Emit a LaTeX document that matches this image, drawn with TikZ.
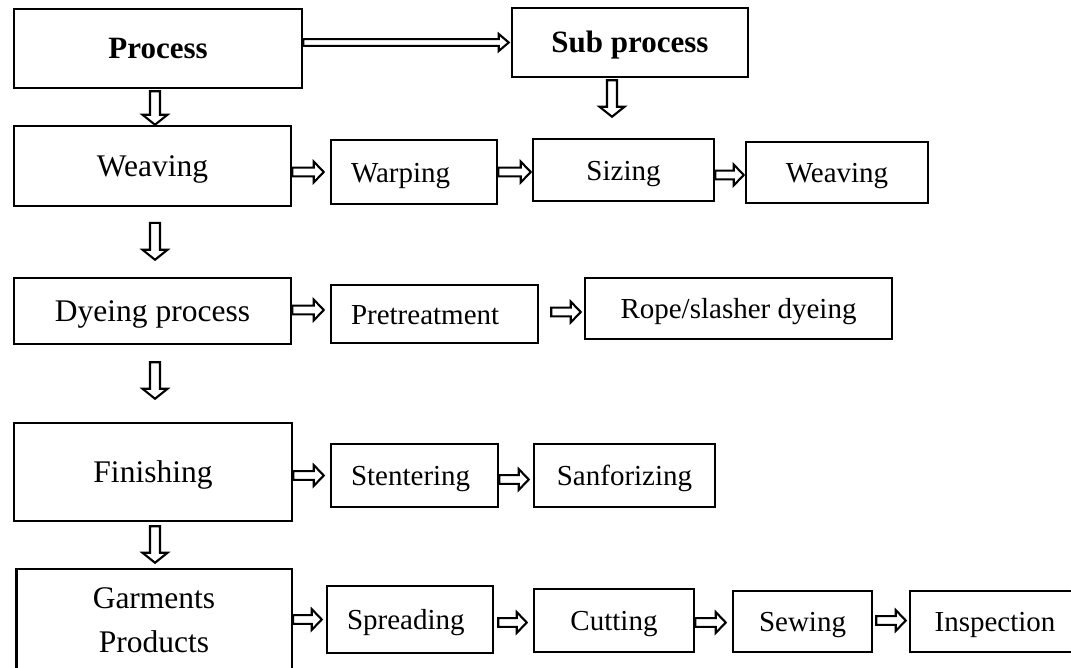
\documentclass[tikz,border=0pt]{standalone}
\usepackage{fontspec}
\setmainfont{Liberation Serif}
\usetikzlibrary{calc,positioning}
\tikzset{
  % sizes of the hollow arrows
  arrshaft/.store in=\shafthw, arrhead/.store in=\headhw, arrlen/.store in=\headlen,
  arrshaft=4.4pt, arrhead=10.4pt, arrlen=10pt,
  mainbox/.style={draw, rectangle, line width=2.5pt, align=center,
    font=\fontsize{31.5}{44}\selectfont},
  oneline/.style={text height=20.5pt, text depth=0pt},
  headbox/.style={mainbox, oneline, font=\fontsize{31}{37}\selectfont\bfseries},
  subbox/.style={draw, rectangle, line width=2.5pt, align=center, oneline,
    font=\fontsize{29}{35}\selectfont},
  lbox/.style={subbox, align=left, inner xsep=20pt},
  rarrow/.style={draw, line width=2.1pt, fill=white, line join=miter,
    to path={let \p1=(\tikztostart), \p2=(\tikztotarget) in
      (\x1,\y1+\shafthw) -- (\x2-\headlen,\y1+\shafthw) -- (\x2-\headlen,\y1+\headhw)
      -- (\x2,\y1) -- (\x2-\headlen,\y1-\headhw) -- (\x2-\headlen,\y1-\shafthw)
      -- (\x1,\y1-\shafthw) -- cycle}},
  darrow/.style={draw, line width=2.1pt, fill=white, line join=miter,
    arrshaft=5pt, arrhead=12.5pt,
    to path={let \p1=(\tikztostart), \p2=(\tikztotarget) in
      (\x1-\shafthw,\y1) -- (\x1-\shafthw,\y2+\headlen) -- (\x1-\headhw,\y2+\headlen)
      -- (\x1,\y2) -- (\x1+\headhw,\y2+\headlen) -- (\x1+\shafthw,\y2+\headlen)
      -- (\x1+\shafthw,\y1) -- cycle}}
}
\begin{document}
\begin{tikzpicture}[x=1pt, y=1pt]

\fill[white] (0,0) rectangle (1071,-667);
\useasboundingbox (0,0) rectangle (1071,-667);

% main column
\node (proc) [headbox, minimum width=288pt, minimum height=79pt] at (158,-48.5) {Process};
\node (weav) [mainbox, oneline, minimum width=277pt, minimum height=80pt] at (152.5,-166) {Weaving};
\node (dye) [mainbox, oneline, minimum width=277pt, minimum height=66pt] at (152.5,-311) {Dyeing process};
\node (fin) [mainbox, oneline, minimum width=278pt, minimum height=98pt] at (153,-472) {Finishing};
\node (garm) [mainbox, minimum width=275.5pt, minimum height=103pt] at (154,-620.5) {Garments\\Products};

% sub processes
\node (sub) [headbox, minimum width=236pt, minimum height=69pt] at (630,-42.5) {Sub process};

\node (warp) [lbox, text width=126pt, minimum height=64pt] at (414,-172) {Warping};
\node (siz) [subbox, minimum width=181pt, minimum height=62pt] at (623.5,-170) {Sizing};
\node (weav2) [subbox, minimum width=182pt, minimum height=61pt] at (837,-172.5) {Weaving};

\node (pret) [lbox, text width=167pt, minimum height=58pt] at (434.5,-314) {Pretreatment};
\node (rope) [subbox, minimum width=307pt, minimum height=61pt] at (738.5,-308.5) {Rope/slasher dyeing};

\node (sten) [lbox, text width=127pt, minimum height=63pt] at (414.5,-475.5) {Stentering};
\node (sanf) [subbox, minimum width=181pt, minimum height=63pt] at (624.5,-475.5) {Sanforizing};

\node (spread) [lbox, text width=126pt, minimum height=67pt] at (410,-619.5) {Spreading};
\node (cut) [subbox, minimum width=160pt, minimum height=63pt] at (614,-620.5) {Cutting};
\node (sew) [subbox, minimum width=139pt, minimum height=61pt] at (802.5,-621.5) {Sewing};
\node (insp) [subbox, minimum width=170pt, minimum height=61pt] at (995,-621.5) {Inspection};

% down arrows
\draw [darrow] ([shift={(-3pt,-2pt)}]proc.south) to ([xshift=2.5pt]weav.north);
\draw [darrow] ([shift={(-18pt,-2pt)}]sub.south) to ([shift={(-11.5pt,21pt)}]siz.north);
\draw [darrow] ([shift={(2.5pt,-15.6pt)}]weav.south) to ([shift={(2.5pt,17pt)}]dye.north);
\draw [darrow] ([shift={(2.5pt,-17pt)}]dye.south) to ([shift={(2pt,23pt)}]fin.north);
\draw [darrow] ([shift={(2pt,-4pt)}]fin.south) to ([shift={(1pt,5pt)}]garm.north);

% right arrows
\draw [rarrow, arrshaft=3.4pt, arrhead=8.5pt] (proc.east |- sub.west) to ([xshift=-2pt]sub.west);

\draw [rarrow] (weav.east |- warp.west) to ([xshift=-6pt]warp.west);
\draw [rarrow] (warp.east) to ([xshift=-1pt]siz.west);
\draw [rarrow] ([yshift=-5pt]siz.east) to ([xshift=-1pt]weav2.west);

\draw [rarrow] ([yshift=1pt]dye.east) to ([xshift=-6pt]pret.west);
\draw [rarrow] ([shift={(12pt,2pt)}]pret.east) to ([xshift=-3pt]rope.west);

\draw [rarrow] (fin.east |- sten.west) to ([xshift=-6pt]sten.west);
\draw [rarrow] ([yshift=-4pt]sten.east) to ([xshift=-4pt]sanf.west);

\draw [rarrow] (garm.east |- spread.west) to ([xshift=-4pt]spread.west);
\draw [rarrow] ([shift={(4pt,-3pt)}]spread.east) to ([xshift=-6pt]cut.west);
\draw [rarrow] ([yshift=-2pt]cut.east) to ([xshift=-6pt]sew.west);
\draw [rarrow] ([shift={(3pt,1pt)}]sew.east) to ([xshift=-3pt]insp.west);

\end{tikzpicture}
\end{document}
